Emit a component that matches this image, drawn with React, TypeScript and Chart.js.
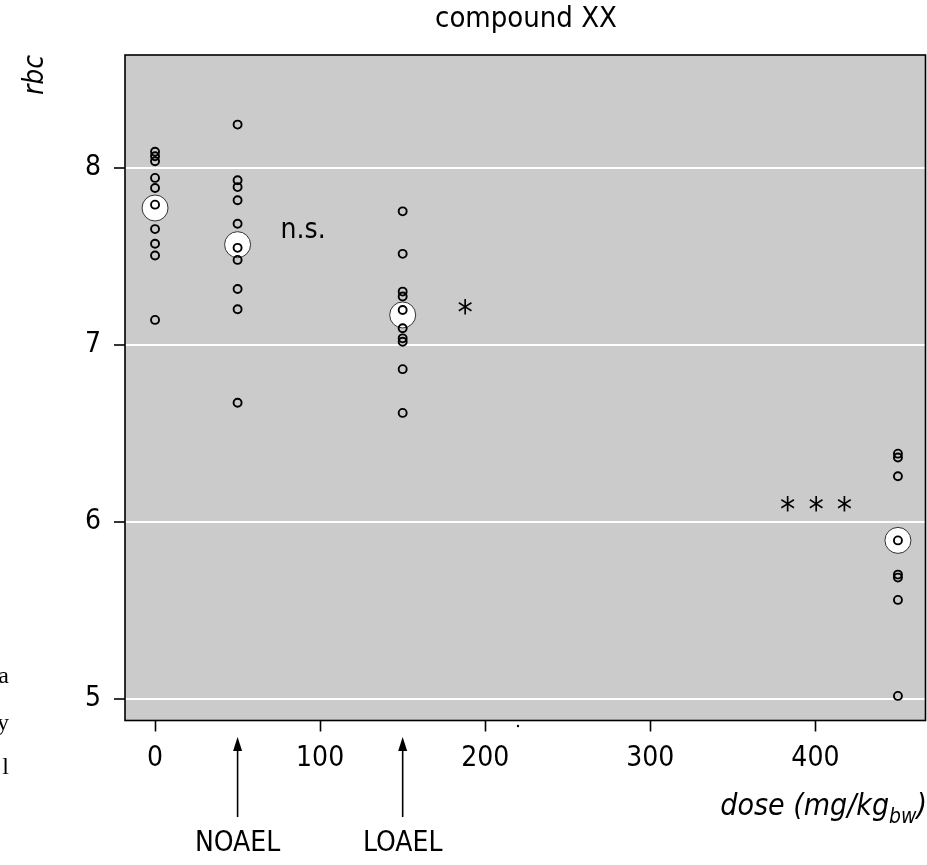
import React, { useEffect, useRef } from "react";
import { Chart, registerables } from "chart.js";

Chart.register(...registerables);

// ---------- data ----------
const doseGroups = [0, 50, 150, 450];
const rbcAtDose0 = [8.09, 8.064, 8.036, 7.942, 7.885, 7.791, 7.653, 7.57, 7.504, 7.14];
const rbcAtDose50 = [8.243, 7.929, 7.89, 7.816, 7.683, 7.547, 7.479, 7.315, 7.2, 6.672];
const rbcAtDose150 = [7.753, 7.513, 7.3, 7.272, 7.196, 7.093, 7.036, 7.017, 6.862, 6.615];
const rbcAtDose450 = [6.385, 6.363, 6.257, 5.895, 5.702, 5.685, 5.559, 5.017];
const rbcByGroup = [rbcAtDose0, rbcAtDose50, rbcAtDose150, rbcAtDose450];
const groupMeans = [7.772, 7.565, 7.168, 5.895];

const xTickValues = [0, 100, 200, 300, 400];
const yTickValues = [5, 6, 7, 8];
const xAxisRange = [-18.2, 466.7];
const yAxisRange = [4.878, 8.636];

// significance marks (text, dose, rbc)
const sigTexts = ["n.s.", "*", "*", "*", "*"];
const sigDoses = [89.7, 187.9, 383.2, 400.4, 417.6];
const sigRbc = [7.646, 7.211, 6.103, 6.103, 6.103];

// level markers under the axis
const markerLabels = ["NOAEL", "LOAEL"];
const markerDoses = [50, 150];

const titleText = "compound XX";
const yAxisTitle = "rbc";
const xAxisTitleMain = "dose (mg/kg";
const xAxisTitleSub = "bw";
const xAxisTitleEnd = ")";
const sideFragments = ["a", "y", "l"];

const FONT = "'Liberation Sans Narrow', 'DejaVu Sans Condensed', 'Liberation Sans', Arial, sans-serif";
const SERIF = "'Liberation Serif', 'DejaVu Serif', serif";
const INK = "#000000";

function drawCentered(ctx: CanvasRenderingContext2D, text: string, x: number, y: number, font: string, align: CanvasTextAlign = "center") {
  ctx.font = font;
  ctx.textAlign = align;
  ctx.textBaseline = "alphabetic";
  const m = ctx.measureText(text);
  const asc = m.actualBoundingBoxAscent;
  const desc = m.actualBoundingBoxDescent;
  ctx.fillText(text, x, y + (asc - desc) / 2);
}

const decorPlugin = {
  id: "decor",
  beforeDraw(chart: any) {
    const { ctx, chartArea } = chart;
    ctx.save();
    ctx.fillStyle = "#cbcbcb";
    ctx.fillRect(chartArea.left, chartArea.top, chartArea.right - chartArea.left, chartArea.bottom - chartArea.top);
    ctx.restore();
  },
  afterDraw(chart: any) {
    const { ctx, chartArea } = chart;
    const xs = chart.scales.x;
    const ys = chart.scales.y;
    ctx.save();
    // frame
    ctx.strokeStyle = INK;
    ctx.lineWidth = 1.6;
    ctx.strokeRect(chartArea.left, chartArea.top, chartArea.right - chartArea.left, chartArea.bottom - chartArea.top);

    ctx.fillStyle = INK;
    // significance marks
    sigTexts.forEach((t, i) => {
      const px = xs.getPixelForValue(sigDoses[i]);
      const py = ys.getPixelForValue(sigRbc[i]);
      if (t === "*") {
        drawCentered(ctx, t, px, py, `34px ${FONT}`);
      } else {
        drawCentered(ctx, t, px, py, `28px ${FONT}`);
      }
    });

    // title
    drawCentered(ctx, titleText, 526, 19, `29px ${FONT}`);

    // y-axis title (rotated)
    ctx.save();
    ctx.translate(32, 75);
    ctx.rotate(-Math.PI / 2);
    drawCentered(ctx, yAxisTitle, 0, 0, `italic 28px ${FONT}`);
    ctx.restore();

    // arrows + labels
    markerDoses.forEach((d, i) => {
      const px = xs.getPixelForValue(d);
      const tip = 737;
      ctx.strokeStyle = INK;
      ctx.lineWidth = 1.6;
      ctx.beginPath();
      ctx.moveTo(px, 817);
      ctx.lineTo(px, tip + 10);
      ctx.stroke();
      ctx.beginPath();
      ctx.moveTo(px, tip);
      ctx.lineTo(px - 4.5, tip + 14);
      ctx.lineTo(px + 4.5, tip + 14);
      ctx.closePath();
      ctx.fill();
      drawCentered(ctx, markerLabels[i], px, 840, `28px ${FONT}`);
    });

    // x-axis title with subscript, right aligned
    const mainFont = `italic 30px ${FONT}`;
    const subFont = `italic 21px ${FONT}`;
    ctx.textBaseline = "alphabetic";
    ctx.textAlign = "left";
    ctx.font = mainFont;
    const wEnd = ctx.measureText(xAxisTitleEnd).width;
    const wMain = ctx.measureText(xAxisTitleMain).width;
    ctx.font = subFont;
    const wSub = ctx.measureText(xAxisTitleSub).width;
    const right = 927;
    const baseline = 815;
    const x0 = right - wEnd - wSub - wMain;
    ctx.font = mainFont;
    ctx.fillText(xAxisTitleMain, x0, baseline);
    ctx.font = subFont;
    ctx.fillText(xAxisTitleSub, x0 + wMain, baseline + 8);
    ctx.font = mainFont;
    ctx.fillText(xAxisTitleEnd, x0 + wMain + wSub, baseline);

    // stray dot under the axis
    ctx.beginPath();
    ctx.arc(518, 726, 1.2, 0, Math.PI * 2);
    ctx.fill();

    // fragments of neighbouring text at the left edge
    const fragY = [675, 722, 766];
    sideFragments.forEach((t, i) => {
      ctx.font = `24px ${SERIF}`;
      ctx.textAlign = "right";
      ctx.fillText(t, 9, fragY[i] + 8);
    });
    ctx.restore();
  },
};

export default function App() {
  const canvasRef = useRef<HTMLCanvasElement | null>(null);

  useEffect(() => {
    if (!canvasRef.current) return;
    const points = rbcByGroup.flatMap((vals, gi) => vals.map((v) => ({ x: doseGroups[gi], y: v })));
    const means = groupMeans.map((m, gi) => ({ x: doseGroups[gi], y: m }));

    const chart = new Chart(canvasRef.current, {
      type: "scatter",
      data: {
        datasets: [
          {
            label: "animals",
            data: points,
            pointRadius: 4,
            pointBorderWidth: 1.9,
            pointBorderColor: INK,
            pointBackgroundColor: "rgba(0,0,0,0)",
            order: 1,
          },
          {
            label: "group mean",
            data: means,
            pointRadius: 13,
            pointBorderWidth: 1,
            pointBorderColor: "#333333",
            pointBackgroundColor: "#ffffff",
            order: 2,
          },
        ],
      },
      options: {
        responsive: false,
        animation: false,
        events: [],
        layout: { autoPadding: false, padding: { left: 0, top: 55, right: 1.5, bottom: 0 } },
        plugins: {
          legend: { display: false },
          tooltip: { enabled: false },
          title: { display: false },
        },
        scales: {
          x: {
            type: "linear",
            min: xAxisRange[0],
            max: xAxisRange[1],
            afterBuildTicks: (axis: any) => {
              axis.ticks = xTickValues.map((value) => ({ value }));
            },
            afterFit: (axis: any) => {
              axis.height = 865 - 720.5;
              axis.paddingLeft = 0;
              axis.paddingRight = 0;
            },
            border: { display: false },
            grid: {
              drawOnChartArea: false,
              drawTicks: true,
              tickLength: 11,
              tickColor: INK,
              tickWidth: 1.6,
            },
            ticks: {
              color: INK,
              padding: 10,
              font: { family: FONT, size: 28 },
            },
          },
          y: {
            type: "linear",
            min: yAxisRange[0],
            max: yAxisRange[1],
            afterBuildTicks: (axis: any) => {
              axis.ticks = yTickValues.map((value) => ({ value }));
            },
            afterFit: (axis: any) => {
              axis.width = 125;
              axis.paddingTop = 0;
              axis.paddingBottom = 0;
            },
            border: { display: false },
            grid: {
              color: "#ffffff",
              lineWidth: 2,
              drawTicks: true,
              tickLength: 11,
              tickColor: INK,
              tickWidth: 1.6,
            },
            ticks: {
              color: INK,
              padding: 13,
              font: { family: FONT, size: 28 },
            },
          },
        },
      },
      plugins: [decorPlugin],
    } as any);

    return () => chart.destroy();
  }, []);

  return (
    <div style={{ position: "absolute", left: 0, top: 0, width: 927, height: 865, background: "#ffffff" }}>
      <canvas ref={canvasRef} width={927} height={865} style={{ width: 927, height: 865, display: "block" }} />
    </div>
  );
}
